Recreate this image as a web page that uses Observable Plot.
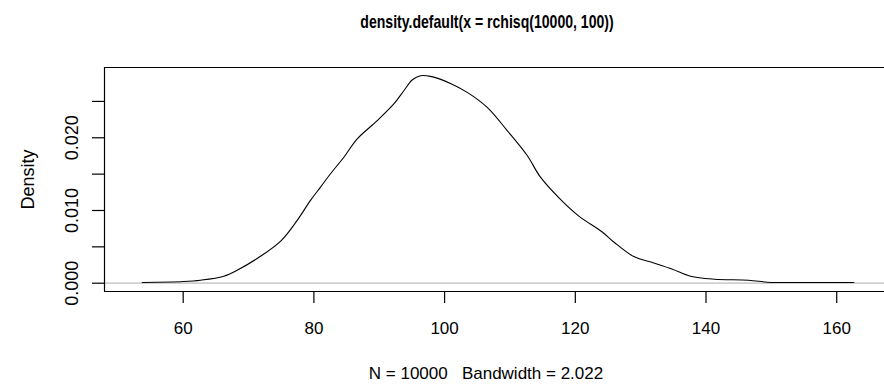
<!DOCTYPE html>
<html>
<head>
<meta charset="utf-8">
<script src="https://cdn.jsdelivr.net/npm/d3@7"></script>
<script src="https://cdn.jsdelivr.net/npm/@observablehq/plot@0.6"></script>
<style>
  body { margin: 0; background: #fff; }
  #wrap { position: relative; width: 884px; height: 385px; font-family: "Liberation Sans", Arial, sans-serif; overflow: hidden; }
  #title { position: absolute; left: 287px; top: 11px; width: 400px; text-align: center; font-weight: bold; font-size: 19px; color: #000; transform: scaleX(0.74); transform-origin: 200px 0; white-space: nowrap; }
  #caption { position: absolute; left: 0; top: 364px; width: 972px; text-align: center; font-size: 17px; color: #000; white-space: nowrap; }
  #chart { position: absolute; left: 0; top: 0; }
</style>
</head>
<body>
<div id="wrap">
  <div id="chart"></div>
  <div id="title">density.default(x = rchisq(10000, 100))</div>
  <div id="caption">N = 10000&nbsp;&nbsp;&nbsp;Bandwidth = 2.022</div>
</div>
<script>
// density estimate
const xs = [53.73, 60.09, 62.65, 66.21, 68.26, 71.83, 75.04, 77.44, 79.48, 81.01, 82.54, 84.58, 86.63, 89.69, 92.23, 93.76, 95.04, 96.31, 97.84, 100.90, 103.46, 106.52, 109.58, 112.64, 114.67, 117.73, 120.49, 124.12, 125.89, 128.95, 132.01, 134.87, 137.63, 141.30, 146.50, 149.37, 151.40, 162.62];
const ys = [0.0001, 0.00023, 0.00041, 0.00096, 0.00178, 0.0037, 0.0059, 0.00864, 0.01139, 0.01321, 0.01505, 0.01732, 0.01985, 0.02236, 0.02465, 0.02647, 0.02794, 0.02853, 0.02844, 0.02748, 0.02624, 0.02418, 0.02099, 0.01756, 0.01458, 0.01152, 0.00926, 0.00704, 0.00567, 0.00366, 0.00278, 0.00192, 0.00096, 0.00055, 0.00041, 0.00014, 0.0001, 0.0001];
const xTicks = [60, 80, 100, 120, 140, 160];
const yTicks = [0, 0.005, 0.010, 0.015, 0.020, 0.025];
const yTickLabels = ["0.000", "0.010", "0.020"];
const yLabelValues = [0, 0.010, 0.020];
const yLabel = "Density";

const data = xs.map((x, i) => ({x, y: ys[i]}));
const xDomain = [47.96, 167.31];
const yDomain = [-0.001141, 0.029665];

const plot = Plot.plot({
  width: 884,
  height: 385,
  marginLeft: 104,
  marginRight: 0,
  marginTop: 67,
  marginBottom: 94,
  x: {domain: xDomain},
  y: {domain: yDomain},
  style: {fontFamily: "Liberation Sans, Arial, sans-serif", fontSize: "17px", color: "#000", background: "#fff"},
  marks: [
    Plot.ruleY([0], {stroke: "#bebebe", strokeWidth: 1.2}),
    Plot.line(data, {x: "x", y: "y", stroke: "#000", strokeWidth: 1.1, curve: "catmull-rom"}),
    Plot.ruleX([xDomain[0]], {stroke: "#000", strokeWidth: 1.2}),
    Plot.ruleY([yDomain[0], yDomain[1]], {stroke: "#000", strokeWidth: 1.2}),
    Plot.axisX({ticks: xTicks, tickSize: 12, tickFormat: () => "", strokeWidth: 1.2, label: null}),
    Plot.text(xTicks, {x: d => d, frameAnchor: "bottom", dy: 37, lineAnchor: "middle", text: d => String(d), fontSize: 17}),
    Plot.axisY({ticks: yTicks, tickSize: 12, tickFormat: () => "", strokeWidth: 1.2, label: null}),
    Plot.text(yLabelValues, {y: d => d, frameAnchor: "left", dx: -32, rotate: -90, textAnchor: "middle", lineAnchor: "middle", text: (d, i) => yTickLabels[i], fontSize: 18}),
    Plot.text([yLabel], {frameAnchor: "left", dx: -76, rotate: -90, textAnchor: "middle", lineAnchor: "middle", text: d => d, fontSize: 18})
  ]
});
document.getElementById("chart").appendChild(plot);
</script>
</body>
</html>
